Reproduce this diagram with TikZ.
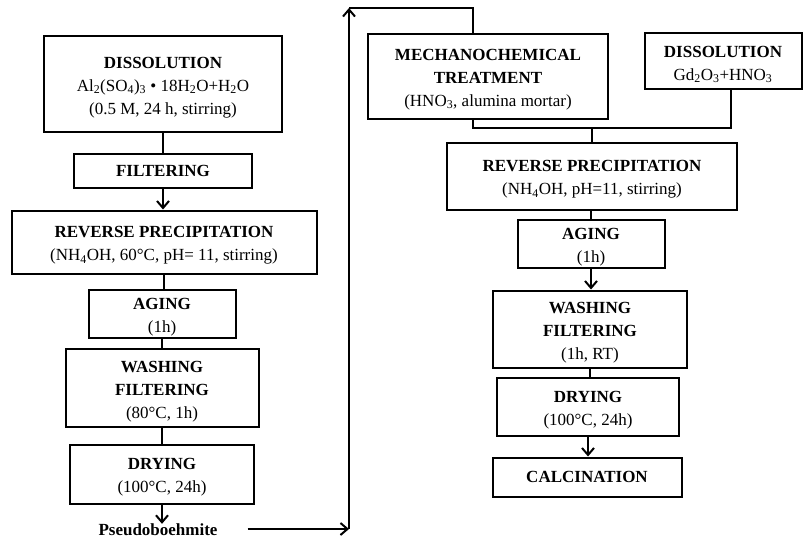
\documentclass[tikz,border=0pt]{standalone}
\usepackage{fontspec}
\setmainfont{Liberation Serif}
\usetikzlibrary{arrows.meta}
\newcommand\tstr{\rule{0pt}{18pt}}
\begin{document}
\begin{tikzpicture}[x=1pt,y=-1pt,
  box/.style={draw, line width=2pt, align=center, inner sep=0pt, font=\fontsize{17}{23}\selectfont},
  ln/.style={line width=2pt},
  ar/.style={line width=2pt, -{Straight Barb[length=7pt,width=12pt]}}]
\useasboundingbox (0,0) rectangle (803,538);
% left column
\node[box, minimum width=238, minimum height=96] (d1) at (163,84) {\tstr\textbf{DISSOLUTION}\\Al\textsubscript{2}(SO\textsubscript{4})\textsubscript{3} • 18H\textsubscript{2}O+H\textsubscript{2}O\\(0.5 M, 24 h, stirring)};
\node[box, minimum width=178, minimum height=34] (f1) at (163,171) {\textbf{FILTERING}};
\node[box, minimum width=305, minimum height=63] (r1) at (164,242) {\tstr\textbf{REVERSE PRECIPITATION}\\(NH\textsubscript{4}OH, 60°C, pH= 11, stirring)};
\node[box, minimum width=147, minimum height=48] (a1) at (162,314) {\tstr\textbf{AGING}\\(1h)};
\node[box, minimum width=193, minimum height=78] (w1) at (162,388) {\tstr\textbf{WASHING}\\\textbf{FILTERING}\\(80°C, 1h)};
\node[box, minimum width=184, minimum height=59] (y1) at (162,474) {\tstr\textbf{DRYING}\\(100°C, 24h)};
\node[font=\fontsize{17}{23}\selectfont\bfseries, inner sep=0pt] (pb) at (158,530) {Pseudoboehmite};
% right column
\node[box, minimum width=240, minimum height=85] (m2) at (488,76) {\tstr\textbf{MECHANOCHEMICAL}\\\textbf{TREATMENT}\\(HNO\textsubscript{3}, alumina mortar)};
\node[box, minimum width=157, minimum height=56] (d2) at (723,61) {\tstr\textbf{DISSOLUTION}\\Gd\textsubscript{2}O\textsubscript{3}+HNO\textsubscript{3}};
\node[box, minimum width=290, minimum height=67] (r2) at (592,176) {\tstr\textbf{REVERSE PRECIPITATION}\\(NH\textsubscript{4}OH, pH=11, stirring)};
\node[box, minimum width=147, minimum height=48] (a2) at (591,244) {\tstr\textbf{AGING}\\(1h)};
\node[box, minimum width=194, minimum height=77] (w2) at (590,329) {\tstr\textbf{WASHING}\\\textbf{FILTERING}\\(1h, RT)};
\node[box, minimum width=182, minimum height=58] (y2) at (588,407) {\tstr\textbf{DRYING}\\(100°C, 24h)};
\node[box, minimum width=189, minimum height=39] (c2) at (587,477) {\textbf{CALCINATION}};
% coordinates
\coordinate (lb) at (349,529);
\coordinate (lt) at (349,8);
\coordinate (tr) at (473,8);
\coordinate (jm) at (473,128);
\coordinate (jd) at (731,128);
\coordinate (jc) at (592,128);
% left connectors
\draw[ln] (d1.south) -- (d1.south |- f1.north);
\draw[ar] (f1.south) -- (f1.south |- r1.north);
\draw[ln] (r1.south) -- (r1.south |- a1.north);
\draw[ln] (a1.south) -- (a1.south |- w1.north);
\draw[ln] (w1.south) -- (w1.south |- y1.north);
\draw[ar] (y1.south) -- (y1.south |- pb.north);
% loop
\draw[ar] ([xshift=30pt]pb.east |- lb) -- (lb);
\draw[ar] (lb) -- (lt);
\draw[ln] (lt) -- (tr) -- (tr |- m2.north);
% right connectors
\draw[ln] (jm |- m2.south) -- (jm) -- (jd) -- (jd |- d2.south);
\draw[ln] (jc) -- (jc |- r2.north);
\draw[ln] (r2.south -| a2.north) -- (a2.north);
\draw[ar] (a2.south) -- (a2.south |- w2.north);
\draw[ln] (w2.south) -- (w2.south |- y2.north);
\draw[ar] (y2.south) -- (y2.south |- c2.north);
\end{tikzpicture}
\end{document}
